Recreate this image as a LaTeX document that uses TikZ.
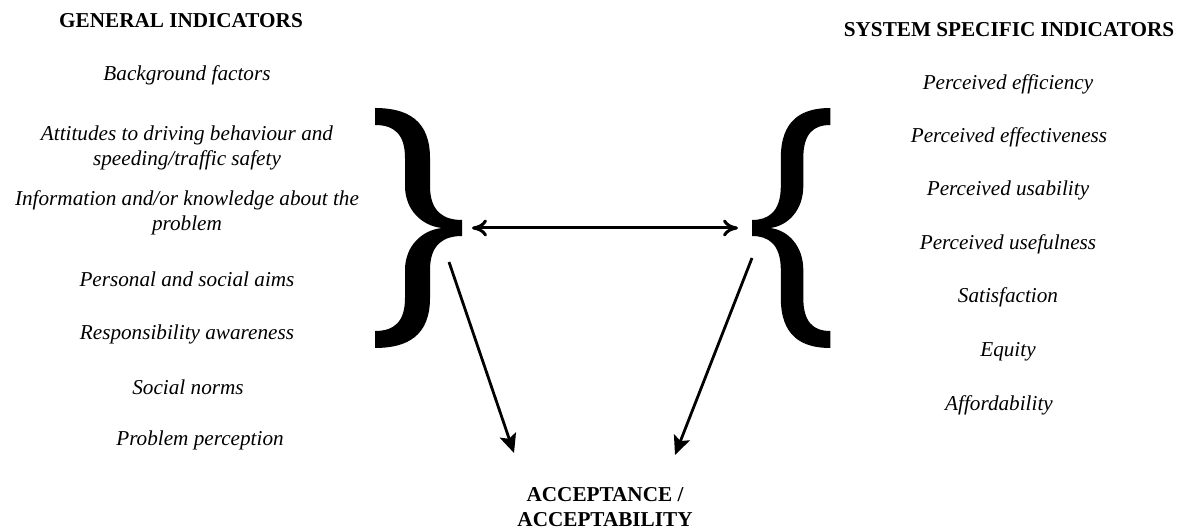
\documentclass[tikz,border=0pt]{standalone}
\usepackage{fontspec}
\setmainfont{Liberation Serif}
\usetikzlibrary{arrows.meta}

\tikzset{
	item/.style={font=\fontsize{10.6}{12.5}\selectfont\itshape, align=center, inner sep=0pt},
	head/.style={font=\fontsize{10.6}{12.5}\selectfont\bfseries, align=center, inner sep=0pt},
	link/.style={line width=1.4pt, -{Stealth[length=9.5pt, width=8.5pt, inset=2pt]}},
	% a large curly brace, tip at the origin, arms to the left
	bigbrace/.pic={
		\fill (0,-8) .. controls (-18,-8) and (-32,-16) .. (-32,-42)
			-- (-32,-70) .. controls (-32,-108) and (-55,-120) .. (-87,-120)
			-- (-87,-103) .. controls (-68,-103) and (-57,-94) .. (-57,-70)
			-- (-57,-42) .. controls (-57,-18) and (-40,-2) .. (-20,0)
			.. controls (-40,2) and (-57,18) .. (-57,42)
			-- (-57,70) .. controls (-57,94) and (-68,103) .. (-87,103)
			-- (-87,120) .. controls (-55,120) and (-32,108) .. (-32,70)
			-- (-32,42) .. controls (-32,16) and (-18,8) .. (0,8) -- cycle;
	}
}

\begin{document}
\begin{tikzpicture}[x=0.5pt, y=-0.5pt]
	\useasboundingbox (0,0) rectangle (1182,528);

	\node[head] (gen) at (181,21) {GENERAL INDICATORS};
	\foreach \x/\y/\t [count=\i] in {187/75/{Background factors},
		187/148/{Attitudes to driving behaviour and\\ speeding/traffic safety},
		187/213/{Information and/or knowledge about the\\ problem},
		187/279/{Personal and social aims}, 187/334/{Responsibility awareness},
		188/387/{Social norms}, 200/440/{Problem perception}}
		\node[item] (g\i) at (\x,\y) {\t};

	\node[head] (sys) at (1009,30) {SYSTEM SPECIFIC INDICATORS};
	\foreach \x/\y/\t [count=\i] in {1008/84/{Perceived efficiency},
		1009/137/{Perceived effectiveness}, 1008/190/{Perceived usability},
		1008/244/{Perceived usefulness}, 1008/297/{Satisfaction},
		1008/352/{Equity}, 999/405/{Affordability}}
		\node[item] (s\i) at (\x,\y) {\t};

	\node[head] (acc) at (605,507) {ACCEPTANCE /\\ ACCEPTABILITY};

	\pic at (462,228) {bigbrace};
	\pic[xscale=-0.9] at (752,228) {bigbrace};

	\coordinate (lt) at (472,228);
	\coordinate (rt) at (738,228);
	\coordinate (lfoot) at (449,262);
	\coordinate (rfoot) at (752,258);
	\coordinate (lend) at (514,453);
	\coordinate (rend) at (675,455);

	\draw[line width=1.5pt, {To[length=7.5pt, width=8.5pt]}-{To[length=7.5pt, width=8.5pt]}] (lt) -- (rt);
	\draw[link] (lfoot) -- (lend);
	\draw[link] (rfoot) -- (rend);
\end{tikzpicture}
\end{document}
